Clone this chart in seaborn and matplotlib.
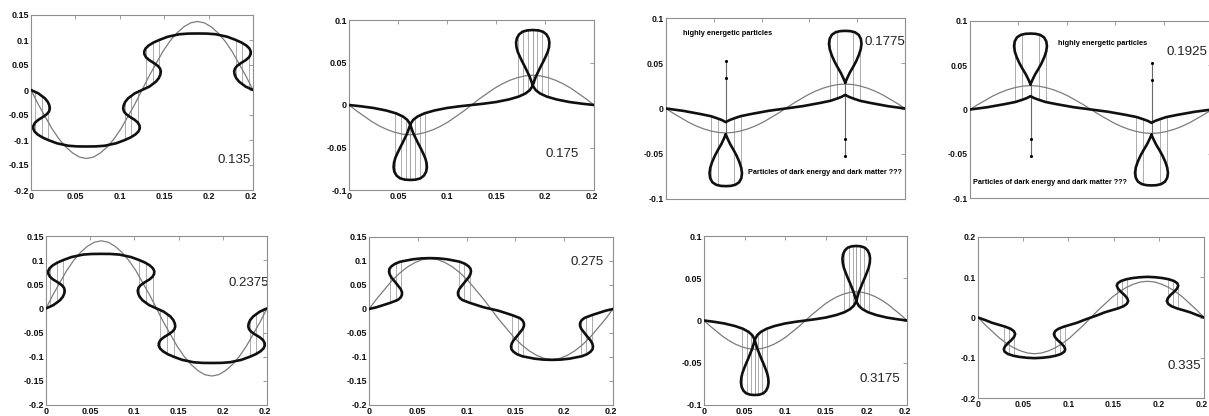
import matplotlib
matplotlib.use("Agg")
import matplotlib.pyplot as plt
import seaborn as sns
import pandas as pd
from matplotlib import font_manager
from matplotlib.font_manager import FontProperties
from matplotlib.transforms import Bbox, TransformedBbox

# ------------------------------------------------------------------ data
times = ["0.135", "0.175", "0.1775", "0.1925", "0.2375", "0.275", "0.3175", "0.335"]

x_ticks = [0, 0.05, 0.1, 0.15, 0.2, 0.25]
x_tick_labels = ["0", "0.05", "0.1", "0.15", "0.2", "0.25"]

# thin (grey) wave: one quarter, read as fraction of its peak
thin_qx = [0, 0.0078, 0.0156, 0.0234, 0.0313, 0.0391, 0.0469, 0.0547, 0.0625]
thin_qshape = [0, 0.20, 0.38, 0.56, 0.71, 0.83, 0.92, 0.98, 1.0]
thin_peak = [-0.137, -0.035, -0.027, 0.027, 0.140, 0.105, -0.034, -0.090]

# thick (black) curves: first quarter, from (0,0) to the crest at x=0.0625
s135_x = [0, 0.0082, 0.0157, 0.0190, 0.0207, 0.0212, 0.0203, 0.0180, 0.0140, 0.0080,
          0.0045, 0.0027, 0.0025, 0.0040, 0.0075, 0.0130, 0.0200, 0.0290, 0.0420, 0.0520, 0.0625]
s135_y = [0, -0.0067, -0.0167, -0.0240, -0.0310, -0.0370, -0.0430, -0.0480, -0.0533, -0.0600,
          -0.0655, -0.0715, -0.0770, -0.0830, -0.0890, -0.0950, -0.1005, -0.1065, -0.1115,
          -0.1128, -0.1130]

loop_x = [0, 0.012, 0.025, 0.038, 0.048, 0.055, 0.0595, 0.0618, 0.0632, 0.0655, 0.0680,
          0.0705, 0.0732, 0.0757, 0.0778, 0.0791, 0.0795, 0.0787, 0.0765, 0.0730, 0.0680, 0.0625]
loop_y = [0, -0.0015, -0.0035, -0.0065, -0.0098, -0.0135, -0.0175, -0.0215, -0.0255, -0.0330,
          -0.0390, -0.0450, -0.0510, -0.0570, -0.0625, -0.0680, -0.0735, -0.0785, -0.0830,
          -0.0862, -0.0878, -0.0882]

cusp_x = [0, 0.018, 0.0355, 0.047, 0.054, 0.0585, 0.061, 0.0625]
cusp_y = [0, -0.0026, -0.0060, -0.0085, -0.0110, -0.0128, -0.0142, -0.0150]
tear_x = [0.0625, 0.0645, 0.0672, 0.0705, 0.0738, 0.0767, 0.0787, 0.0795, 0.0788, 0.0765,
          0.0725, 0.0678, 0.0625]
tear_y = [-0.0285, -0.0335, -0.0395, -0.0455, -0.0520, -0.0590, -0.0655, -0.0715, -0.0770,
          -0.0815, -0.0843, -0.0855, -0.0858]

s275_x = [0, 0.0075, 0.0140, 0.0220, 0.0294, 0.0322, 0.0337, 0.0338, 0.0325, 0.0300, 0.0265,
          0.0232, 0.0212, 0.0205, 0.0210, 0.0230, 0.0265, 0.0320, 0.0447, 0.0540, 0.0625]
s275_y = [0, 0.0035, 0.0077, 0.0130, 0.0188, 0.0235, 0.0290, 0.0350, 0.0415, 0.0480, 0.0570,
          0.0650, 0.0720, 0.0780, 0.0840, 0.0890, 0.0940, 0.0985, 0.1035, 0.1055, 0.1060]

s335_x = [0, 0.0075, 0.0154, 0.0301, 0.0360, 0.0397, 0.0411, 0.0400, 0.0370, 0.0330, 0.0298,
          0.0285, 0.0295, 0.0330, 0.0390, 0.0460, 0.0540, 0.0625]
s335_y = [0, -0.0060, -0.0130, -0.0228, -0.0280, -0.0340, -0.0410, -0.0480, -0.0560, -0.0640,
          -0.0720, -0.0790, -0.0850, -0.0905, -0.0950, -0.0980, -0.1000, -0.1010]

# vertical guide lines (first-quarter positions)
vl_135 = [0.004, 0.012, 0.0195]
vl_loop = [0.047, 0.053, 0.058, 0.0625]
vl_cusp = [0.047, 0.054]
vl_275 = [0.0215, 0.0275, 0.033]
vl_335 = [0.029, 0.0345, 0.040]

# "highly energetic particles" line and dots (first half)
energy_x = 0.0625
energy_line_y = [0.052, -0.029]
energy_dots_y = [0.052, 0.0335]

# ------------------------------------------------------------------ helpers
def full_wave(qx, qy, sign=1.0):
    qy = [sign * v for v in qy]
    hx = list(qx) + [0.125 - v for v in reversed(qx[:-1])]
    hy = list(qy) + list(reversed(qy[:-1]))
    fx = hx + [v + 0.125 for v in hx[1:]]
    fy = hy + [-v for v in hy[1:]]
    return fx, fy


def full_tear(qx, qy, sign=1.0):
    tx = list(qx) + [0.125 - v for v in reversed(qx[:-1])]
    ty = [sign * v for v in list(qy) + list(reversed(qy[:-1]))]
    return [(tx, ty), ([v + 0.125 for v in tx], [-v for v in ty])]


def full_positions(q):
    return q + [0.125 - v for v in q] + [v + 0.125 for v in q] + [0.25 - v for v in q]


def span_at(x0, curves):
    hits = []
    for xs, ys in curves:
        for i in range(len(xs) - 1):
            a, b = xs[i], xs[i + 1]
            if a == b:
                continue
            if (a - x0) * (b - x0) <= 0:
                t = (x0 - a) / (b - a)
                hits.append(ys[i] + t * (ys[i + 1] - ys[i]))
    if len(hits) < 2:
        return None
    return min(hits), max(hits)


def fmt(v):
    return "0" if abs(v) < 1e-12 else f"{v:g}"


# ------------------------------------------------------------------ fonts
sns.set_style("white")
names = {f.name for f in font_manager.fontManager.ttflist}
REG = "Liberation Sans" if "Liberation Sans" in names else "DejaVu Sans"


def font(size, weight="normal"):
    return FontProperties(family=[REG, "DejaVu Sans"], size=size, weight=weight)


# ------------------------------------------------------------------ panels
W, H = 1209, 416
boxes = [(31, 15, 253, 190), (349, 20, 594, 190), (666, 18, 905, 199), (970, 21, 1212, 198),
         (46, 236, 267, 405), (369, 237, 613, 405), (704, 236, 907, 405), (978, 237, 1204, 398)]

yt_a = [-0.2, -0.15, -0.1, -0.05, 0, 0.05, 0.1, 0.15]
yt_b = [-0.1, -0.05, 0, 0.05, 0.1]
yt_c = [-0.2, -0.1, 0, 0.1, 0.2]

panels = [
    dict(kind="wave", qx=s135_x, qy=s135_y, sign=1, vl=vl_135, ylim=(-0.2, 0.15), yt=yt_a,
         tick_size=6.5, xlabels=True, label_xy=(0.21, -0.14), label_size=9.5),
    dict(kind="wave", qx=loop_x, qy=loop_y, sign=1, vl=vl_loop, ylim=(-0.1, 0.1), yt=yt_b,
         tick_size=6.5, xlabels=True, label_xy=(0.2, -0.058), label_size=9.5),
    dict(kind="tear", sign=1, vl=vl_cusp, ylim=(-0.1, 0.1), yt=yt_b,
         tick_size=6.2, xlabels=False, label_xy=(0.208, 0.074), label_size=9.6,
         top_text_xy=(0.0174, 0.083), bottom_text_xy=(0.086, -0.071)),
    dict(kind="tear", sign=-1, vl=vl_cusp, ylim=(-0.1, 0.1), yt=yt_b,
         tick_size=6.2, xlabels=False, label_xy=(0.203, 0.065), label_size=9.6,
         top_text_xy=(0.091, 0.075), bottom_text_xy=(0.003, -0.082)),
    dict(kind="wave", qx=s135_x, qy=s135_y, sign=-1, vl=vl_135, ylim=(-0.2, 0.15), yt=yt_a,
         tick_size=6.5, xlabels=True, label_xy=(0.206, 0.052), label_size=9.5, clip_label=True),
    dict(kind="wave", qx=s275_x, qy=s275_y, sign=1, vl=vl_275, ylim=(-0.2, 0.15), yt=yt_a,
         tick_size=6.5, xlabels=True, label_xy=(0.206, 0.097), label_size=9.5),
    dict(kind="wave", qx=loop_x, qy=loop_y, sign=1, vl=vl_loop, ylim=(-0.1, 0.1), yt=yt_b,
         tick_size=6.5, xlabels=True, label_xy=(0.191, -0.069), label_size=9.5),
    dict(kind="wave", qx=s335_x, qy=s335_y, sign=1, vl=vl_335, ylim=(-0.2, 0.2), yt=yt_c,
         tick_size=6.2, xlabels=True, label_xy=(0.21, -0.12), label_size=9.6),
]

fig = plt.figure(figsize=(W / 100, H / 100), dpi=100)
fig.patch.set_facecolor("white")

THICK = "#101010"
THIN = "#7c7c7c"
GUIDE = "#a0a0a0"
FRAME = "#8e8e8e"

for i, (p, box) in enumerate(zip(panels, boxes)):
    l, t, r, b = box
    ax = fig.add_axes([l / W, 1 - b / H, (r - l) / W, (b - t) / H])
    ax.set_facecolor("white")

    # thin wave
    tq = [thin_peak[i] * v for v in thin_qshape]
    tx, ty = full_wave(thin_qx, tq, 1.0)
    sns.lineplot(data=pd.DataFrame({"x": tx, "y": ty}), x="x", y="y", sort=False,
                 estimator=None, color=THIN, linewidth=0.9, ax=ax)

    # thick curves
    if p["kind"] == "wave":
        cx, cy = full_wave(p["qx"], p["qy"], p["sign"])
        curves = [(cx, cy)]
    else:
        cx, cy = full_wave(cusp_x, cusp_y, p["sign"])
        curves = [(cx, cy)] + full_tear(tear_x, tear_y, p["sign"])

    # guide lines
    for x0 in full_positions(p["vl"]):
        sp = span_at(x0, curves)
        if sp is not None:
            ax.vlines(x0, sp[0], sp[1], color=GUIDE, linewidth=0.6, zorder=1)

    for xs, ys in curves:
        sns.lineplot(data=pd.DataFrame({"x": xs, "y": ys}), x="x", y="y", sort=False,
                     estimator=None, color=THICK, linewidth=1.9, ax=ax, zorder=3)

    if p["kind"] == "tear":
        s = p["sign"]
        for hx, hs in [(energy_x, 1), (energy_x + 0.125, -1)]:
            ly = [s * hs * v for v in energy_line_y]
            ax.vlines(hx, min(ly), max(ly), color="#6a6a6a", linewidth=0.8, zorder=2)
            dy = [s * hs * v for v in energy_dots_y]
            sns.scatterplot(x=[hx] * len(dy), y=dy, color="black", s=5, linewidth=0,
                            ax=ax, zorder=4)
        ax.text(*p["top_text_xy"], "highly energetic particles", fontproperties=font(5.3, "bold"),
                ha="left", va="center", color="black")
        ax.text(*p["bottom_text_xy"], "Particles of dark energy and dark matter ???",
                fontproperties=font(5.25, "bold"), ha="left", va="center", color="black")

    # time label
    txt = ax.text(*p["label_xy"], times[i], fontproperties=font(p["label_size"]),
                  ha="left", va="center", color="#222222")
    if p.get("clip_label"):
        txt.set_clip_on(True)

    # axes styling
    ax.set_xlim(0, 0.25)
    ax.set_ylim(*p["ylim"])
    ax.set_xlabel("")
    ax.set_ylabel("")
    tick_fp = font(p["tick_size"], "bold")
    ax.set_yticks(p["yt"])
    ax.set_yticklabels([fmt(v) for v in p["yt"]], fontproperties=tick_fp)
    ax.set_xticks(x_ticks)
    if p["xlabels"]:
        ax.set_xticklabels(x_tick_labels, fontproperties=tick_fp)
    else:
        ax.set_xticklabels([""] * len(x_ticks))
    ax.tick_params(direction="in", length=3, width=0.6, color=FRAME, top=True, right=True,
                   pad=1.5, labelcolor="#111111")
    for sp_ in ax.spines.values():
        sp_.set_visible(True)
        sp_.set_color(FRAME)
        sp_.set_linewidth(0.8)

    # clip the rightmost x label just past the frame, as in the source picture
    if p["xlabels"]:
        last = ax.get_xticklabels()[-1]
        clip = TransformedBbox(Bbox.from_extents(0, 0, (r + 3) / W, 1), fig.transFigure)
        last.set_clip_box(clip)
        last.set_clip_on(True)

fig.savefig("out.png", dpi=100, facecolor="white")
